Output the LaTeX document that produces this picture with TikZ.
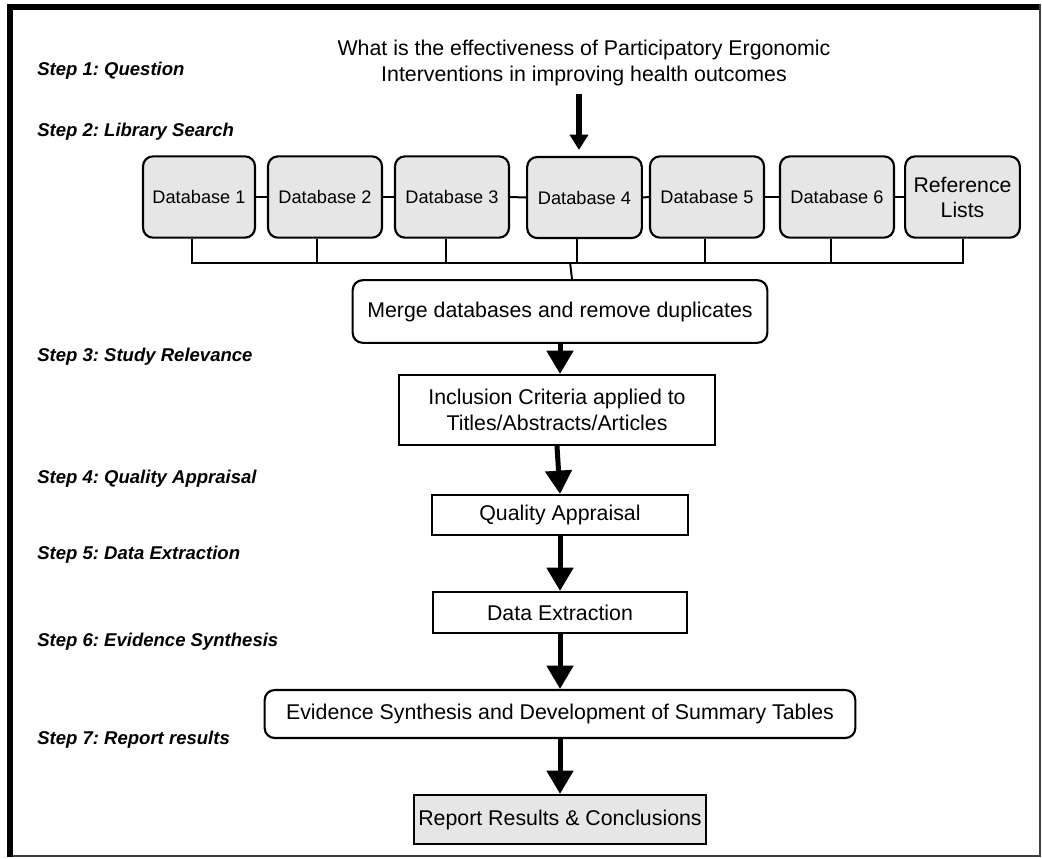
\documentclass[tikz,border=0pt]{standalone}
\usepackage{fontspec}
\setmainfont{Liberation Sans}
\usetikzlibrary{arrows.meta,calc}
\definecolor{boxgray}{RGB}{230,230,230}
\frenchspacing
\begin{document}
\begin{tikzpicture}[x=0.75pt,y=-0.75pt,
  dbbox/.style={draw=black,line width=1.6pt,fill=boxgray,rounded corners=7.5pt,inner sep=0pt,
    align=center,font=\fontsize{13.65pt}{18pt}\selectfont,minimum height=61pt},
  mainbox/.style={draw=black,line width=1.6pt,inner sep=0pt,align=center,
    font=\fontsize{16pt}{19.5pt}\selectfont},
  roundbox/.style={mainbox,rounded corners=7.5pt},
  steplabel/.style={anchor=west,inner sep=0pt,font=\fontsize{13.9pt}{16pt}\selectfont\bfseries\itshape},
  link/.style={draw=black,line width=1.5pt},
  flow/.style={draw=black,line width=3.75pt,-{Triangle[width=19.5pt,length=17.5pt]}},
]
\useasboundingbox (0,0) rectangle (1042,858);
% frame
\draw[line width=4.5pt] (10,857) -- (10,7) -- (1039,7);
\draw[line width=1.5pt,black!75] (13,856) -- (1040,856) -- (1040,4);

% step labels
\node[steplabel] (s1) at (37,71) {Step 1: Question};
\node[steplabel] (s2) at (37,132) {Step 2: Library Search};
\node[steplabel] (s3) at (37,357) {Step 3: Study Relevance};
\node[steplabel] (s4) at (37,479) {Step 4: Quality Appraisal};
\node[steplabel] (s5) at (37,555) {Step 5: Data Extraction};
\node[steplabel] (s6) at (37,642) {Step 6: Evidence Synthesis};
\node[steplabel] (s7) at (37,740) {Step 7: Report results};

% question
\node[align=center,inner sep=0pt,font=\fontsize{16pt}{19.5pt}\selectfont] (q) at (584,63)
  {What is the effectiveness of Participatory Ergonomic\\Interventions in improving health outcomes};

% databases
\node[dbbox,minimum width=84pt] (db1) at (199,197) {Database 1};
\node[dbbox,minimum width=85.5pt] (db2) at (325,197) {Database 2};
\node[dbbox,minimum width=85.5pt] (db3) at (452,197) {Database 3};
\node[dbbox,minimum width=86pt,minimum height=60.75pt] (db4) at (584.5,197.5) {Database 4};
\node[dbbox,minimum width=85.5pt] (db5) at (707,197) {Database 5};
\node[dbbox,minimum width=85.5pt] (db6) at (837,197) {Database 6};
\node[dbbox,minimum width=86pt,font=\fontsize{15.9pt}{18.75pt}\selectfont] (ref) at (962.5,197) {Reference\\Lists};

\draw[link] (db1.east) -- (db2.west);
\draw[link] (db2.east) -- (db3.west);
\draw[link] (db3.east) -- (db4.west);
\draw[link] (db4.east) -- (db5.west);
\draw[link] (db5.east) -- (db6.west);
\draw[link] (db6.east) -- (ref.west);

\coordinate (busL) at ($(db1.south)+(-7,24)$);
\coordinate (busR) at ($(ref.south)+(0.5,24)$);
\coordinate (busJ) at (570,262);
\draw[link] ($(db1.south)+(-7,0)$) -- (busL);
\draw[link] ($(db2.south)+(-8,0)$) -- ++(0,24);
\draw[link] ($(db3.south)+(-6,0)$) -- ++(0,24);
\draw[link] ($(db4.south)+(-7.5,0)$) -- ++(0,24);
\draw[link] ($(db5.south)+(-2,0)$) -- ++(0,24);
\draw[link] ($(db6.south)+(-6,0)$) -- ++(0,24);
\draw[link] ($(ref.south)+(0.5,0)$) -- (busR);
\draw[link,line cap=rect] (busL) -- (busR);

% main flow
\node[roundbox,minimum width=311pt,minimum height=47pt] (merge) at (560,311.5) {Merge databases and remove duplicates};
\node[mainbox,minimum width=237pt,minimum height=52.5pt] (incl) at (557,410) {Inclusion Criteria applied to\\Titles/Abstracts/Articles};
\node[mainbox,minimum width=192pt,minimum height=30pt] (qual) at (560,515) {Quality Appraisal};
\node[mainbox,minimum width=190.5pt,minimum height=30.75pt] (data) at (560,612.5) {Data Extraction};
\node[roundbox,minimum width=443pt,minimum height=36pt] (evid) at (560,714) {Evidence Synthesis and Development of Summary Tables};
\node[mainbox,fill=boxgray,minimum width=219pt,minimum height=36.75pt] (rep) at (560,819.5) {Report Results \& Conclusions};

\draw[link] (busJ) -- ($(merge.north)+(12,0)$);

\draw[draw=black,line width=3.9pt,-{Triangle[width=13.5pt,length=11.5pt]}]
  ($(q.south)+(-5,8)$) -- ($(db4.north)+(-5.5,-6)$);
\draw[flow] (merge.south) -- (incl.north -| merge.south);
\draw[flow] (incl.south) -- (qual.north);
\draw[flow] (qual.south) -- (data.north);
\draw[flow] (data.south) -- (evid.north);
\draw[flow] (evid.south) -- (rep.north);
\end{tikzpicture}
\end{document}
